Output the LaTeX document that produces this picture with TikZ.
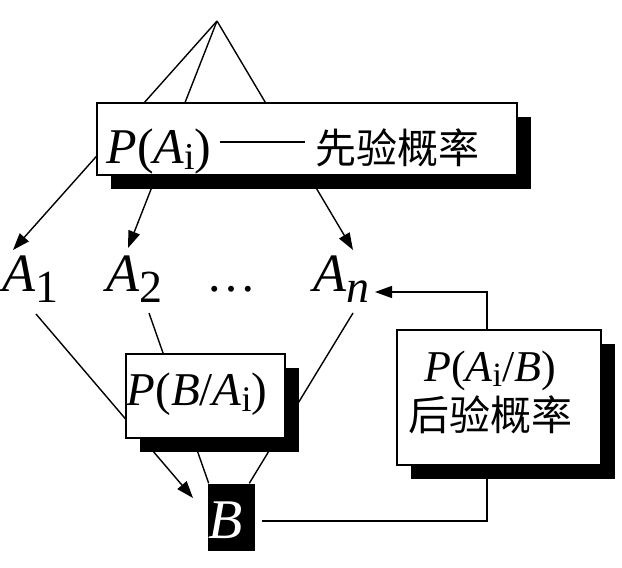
\documentclass[tikz,border=0pt]{standalone}
\usepackage{fontspec}
\setmainfont{Liberation Serif}
\newfontfamily\cjk{Noto Sans CJK SC}
\usetikzlibrary{arrows.meta,shadows,calc}
\pgfdeclarelayer{bg}
\pgfsetlayers{bg,main}
\newcommand\subtxt[3]{\raisebox{-#1pt}{\fontsize{#2}{#2}\selectfont\upshape #3}}
\newcommand\fsz[1]{\fontsize{#1}{#1}\selectfont}
\begin{document}
\begin{tikzpicture}[x=1pt,y=-1pt,line width=1.4pt,
  box/.style={draw,fill=white,line width=1.6pt,inner sep=0pt,
    general shadow={fill=black,shadow xshift=14pt,shadow yshift=-14pt}},
  lab/.style={inner sep=0pt,anchor=base west,font=\fsz{54}},
  arr/.style={-{Triangle[length=17pt,width=12pt]}},
  conn/.style={line width=1.4pt}]
\useasboundingbox (0,0) rectangle (622,568);

% boxes
\node[box,minimum width=420pt,minimum height=72pt,text height=48pt,text depth=0pt] (prior) at (307,139)
  {{\fsz{50}\itshape P\upshape(\itshape A\subtxt{6}{38}{i}\upshape)}\hspace{9pt}\rule[20pt]{85pt}{1.6pt}\hspace{10pt}{\cjk\fsz{41}先验概率}\hspace*{28pt}};
\node[box,minimum width=159pt,minimum height=84pt,text height=18pt,text depth=0pt] (like) at (205.5,396)
  {{\fsz{47}\itshape P\upshape(\itshape B\upshape/\itshape A\subtxt{6}{36}{i}\upshape)}\hspace*{17pt}};
\node[box,minimum width=204pt,minimum height=135pt,align=center,font=\fsz{44}] (post) at (499,397.5)
  {\itshape P\upshape(\itshape A\subtxt{5}{34}{i}\upshape/\itshape B\upshape)\hspace*{18pt}\\[4pt]{\cjk\fsz{41}后验概率}\rule[-13pt]{0pt}{1pt}\hspace*{18pt}};
\node[fill=black,minimum width=45pt,minimum height=67pt,inner sep=0pt,text height=41pt,text depth=0pt,text=white,font=\fsz{56}\itshape] (B) at (231.5,517.5) {B\hspace*{12pt}};

% labels
\node[lab] (A1) at (2,291) {\itshape A\subtxt{11}{46}{1}};
\node[lab] (A2) at (106,291) {\itshape A\subtxt{11}{46}{2}};
\node[lab,font=\fsz{50}] (dots) at (206,291) {…};
\node[lab] (An) at (313,291) {\itshape A\subtxt{11}{46}{\itshape n}};

% coordinates
\coordinate (apex) at (217,21);
\coordinate (t1) at (13,250);
\coordinate (t2) at (128,248);
\coordinate (tn) at (353,250);
\coordinate (s1) at (36,314);
\coordinate (s2) at (149,313);
\coordinate (sn) at (353,313);
\coordinate (e1) at (193,498);
\coordinate (fbB) at (262,521);
\coordinate (fbtip) at (375,292);

\begin{pgfonlayer}{bg}
  \draw[conn,arr] (apex) -- (t1);
  \draw[conn,arr] (apex) -- (t2);
  \draw[conn,arr] (apex) -- (tn);
  \draw[conn,arr] (s1) -- (e1);
  \draw[conn] (s2) -- ([xshift=1pt]B.north west);
  \draw[conn] (sn) -- ([xshift=-6pt]B.north east);
  \draw[conn] (fbB) -| ([xshift=-12pt]post.south);
  \draw[conn,arr] ([xshift=-12pt]post.north) |- (fbtip);
\end{pgfonlayer}
\end{tikzpicture}
\end{document}
